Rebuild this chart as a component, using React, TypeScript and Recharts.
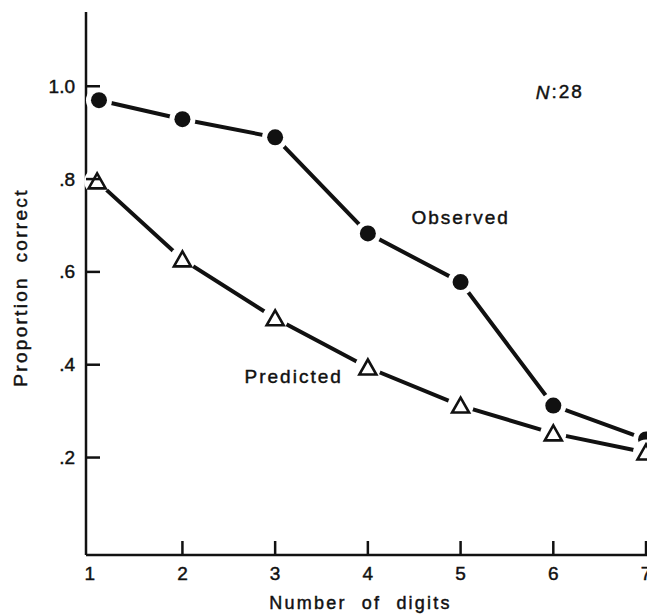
import React from 'react';
import { LineChart, Line, XAxis, YAxis, ReferenceDot } from 'recharts';

// digits shown (x axis)
const digitTicks = [1, 2, 3, 4, 5, 6, 7];
const yTicks = [0.2, 0.4, 0.6, 0.8, 1.0];
const yTickLabels = ['.2', '.4', '.6', '.8', '1.0'];

// first points sit a little right of the axis in the original
const observedX = [1.1, 2, 3, 4, 5, 6, 7];
const observedY = [0.97, 0.929, 0.89, 0.683, 0.578, 0.312, 0.239];
const predictedX = [1.08, 2, 3, 4, 5, 6, 7];
const predictedY = [0.795, 0.627, 0.5, 0.394, 0.312, 0.252, 0.211];

const observedData = observedX.map((x, i) => ({ x, y: observedY[i] }));
const predictedData = predictedX.map((x, i) => ({ x, y: predictedY[i] }));

const FONT = '"Liberation Sans", Arial, sans-serif';
const INK = '#111';
// slightly heavier glyphs, like the scanned original
const textInk = { fill: INK, stroke: INK, strokeWidth: 0.45 };

const YTick = (props: any) => {
  const { x, y, payload } = props;
  const idx = yTicks.indexOf(payload.value);
  return (
    <g>
      <line x1={x} y1={y} x2={x + 14} y2={y} stroke={INK} strokeWidth={2.5} />
      <text x={x - 11} y={y} textAnchor="end" dominantBaseline="central"
        fontFamily={FONT} fontSize={19} {...textInk}>
        {idx >= 0 ? yTickLabels[idx] : payload.value}
      </text>
    </g>
  );
};

const XTick = (props: any) => {
  const { x, y, payload } = props;
  return (
    <g>
      {payload.value !== 1 && (
        <line x1={x} y1={y} x2={x} y2={y - 14} stroke={INK} strokeWidth={2.5} />
      )}
      <text x={x} y={y + 18} textAnchor="middle" dominantBaseline="central"
        fontFamily={FONT} fontSize={19} {...textInk}>
        {payload.value}
      </text>
    </g>
  );
};

const FilledDot = (props: any) => {
  const { cx, cy, index } = props;
  if (cx == null || cy == null) return null;
  return (
    <g key={`o-${index}`}>
      <circle cx={cx} cy={cy} r={13} fill="#fff" />
      <circle cx={cx} cy={cy} r={8} fill={INK} />
    </g>
  );
};

const OpenTriangle = (props: any) => {
  const { cx, cy, index } = props;
  if (cx == null || cy == null) return null;
  const w = 8.5;
  const pts = `${cx},${cy - 8} ${cx - w},${cy + 7} ${cx + w},${cy + 7}`;
  return (
    <g key={`p-${index}`}>
      <circle cx={cx} cy={cy} r={13} fill="#fff" />
      <polygon points={pts} fill="#fff" stroke={INK} strokeWidth={2.6} strokeLinejoin="miter" />
    </g>
  );
};

const TextMark = ({ cx, cy, children }: any) => (
  <text x={cx} y={cy} textAnchor="middle" dominantBaseline="central"
    fontFamily={FONT} fontSize={19} letterSpacing={2} {...textInk}>
    {children}
  </text>
);

export default function App() {
  return (
    <div style={{ position: 'absolute', left: 0, top: 0, width: 647, height: 615, overflow: 'hidden', background: '#fff' }}>
      <LineChart width={680} height={615} margin={{ top: 12, right: 21, left: 0, bottom: 0 }}>
        <XAxis
          dataKey="x"
          type="number"
          domain={[0.96, 7.14]}
          ticks={digitTicks}
          height={60}
          tickSize={0}
          tickMargin={0}
          tickLine={false}
          axisLine={{ stroke: INK, strokeWidth: 2.5 }}
          tick={(p: any) => <XTick {...p} />}
          label={{
            content: (lp: any) => {
              const vb = lp.viewBox;
              return (
                <text x={vb.x + vb.width / 2 - 12} y={vb.y + 48} textAnchor="middle" dominantBaseline="central"
                  fontFamily={FONT} fontSize={18} letterSpacing={2.2} wordSpacing={8} {...textInk}>
                  Number of digits
                </text>
              );
            },
          }}
        />
        <YAxis
          dataKey="y"
          type="number"
          domain={[-0.01, 1.16]}
          ticks={yTicks}
          width={86}
          tickSize={0}
          tickMargin={0}
          tickLine={false}
          axisLine={{ stroke: INK, strokeWidth: 2.5 }}
          tick={(p: any) => <YTick {...p} />}
          label={{
            content: (lp: any) => {
              const vb = lp.viewBox;
              const cx = 20;
              const cy = vb.y + vb.height / 2 + 4;
              return (
                <text x={cx} y={cy} transform={`rotate(-90, ${cx}, ${cy})`} textAnchor="middle"
                  dominantBaseline="central" fontFamily={FONT} fontSize={19}
                  letterSpacing={2.3} wordSpacing={6} {...textInk}>
                  Proportion correct
                </text>
              );
            },
          }}
        />
        <Line
          data={observedData}
          dataKey="y"
          stroke={INK}
          strokeWidth={4}
          dot={(p: any) => <FilledDot {...p} />}
          activeDot={false}
          isAnimationActive={false}
        />
        <Line
          data={predictedData}
          dataKey="y"
          stroke={INK}
          strokeWidth={4}
          dot={(p: any) => <OpenTriangle {...p} />}
          activeDot={false}
          isAnimationActive={false}
        />
        <ReferenceDot x={5.0} y={0.718} r={0} shape={(p: any) => <TextMark {...p}>Observed</TextMark>} />
        <ReferenceDot x={3.2} y={0.374} r={0} shape={(p: any) => <TextMark {...p}>Predicted</TextMark>} />
        <ReferenceDot
          x={6.07}
          y={0.988}
          r={0}
          shape={(p: any) => (
            <TextMark {...p}>
              <tspan fontStyle="italic">N</tspan>:28
            </TextMark>
          )}
        />
      </LineChart>
    </div>
  );
}
